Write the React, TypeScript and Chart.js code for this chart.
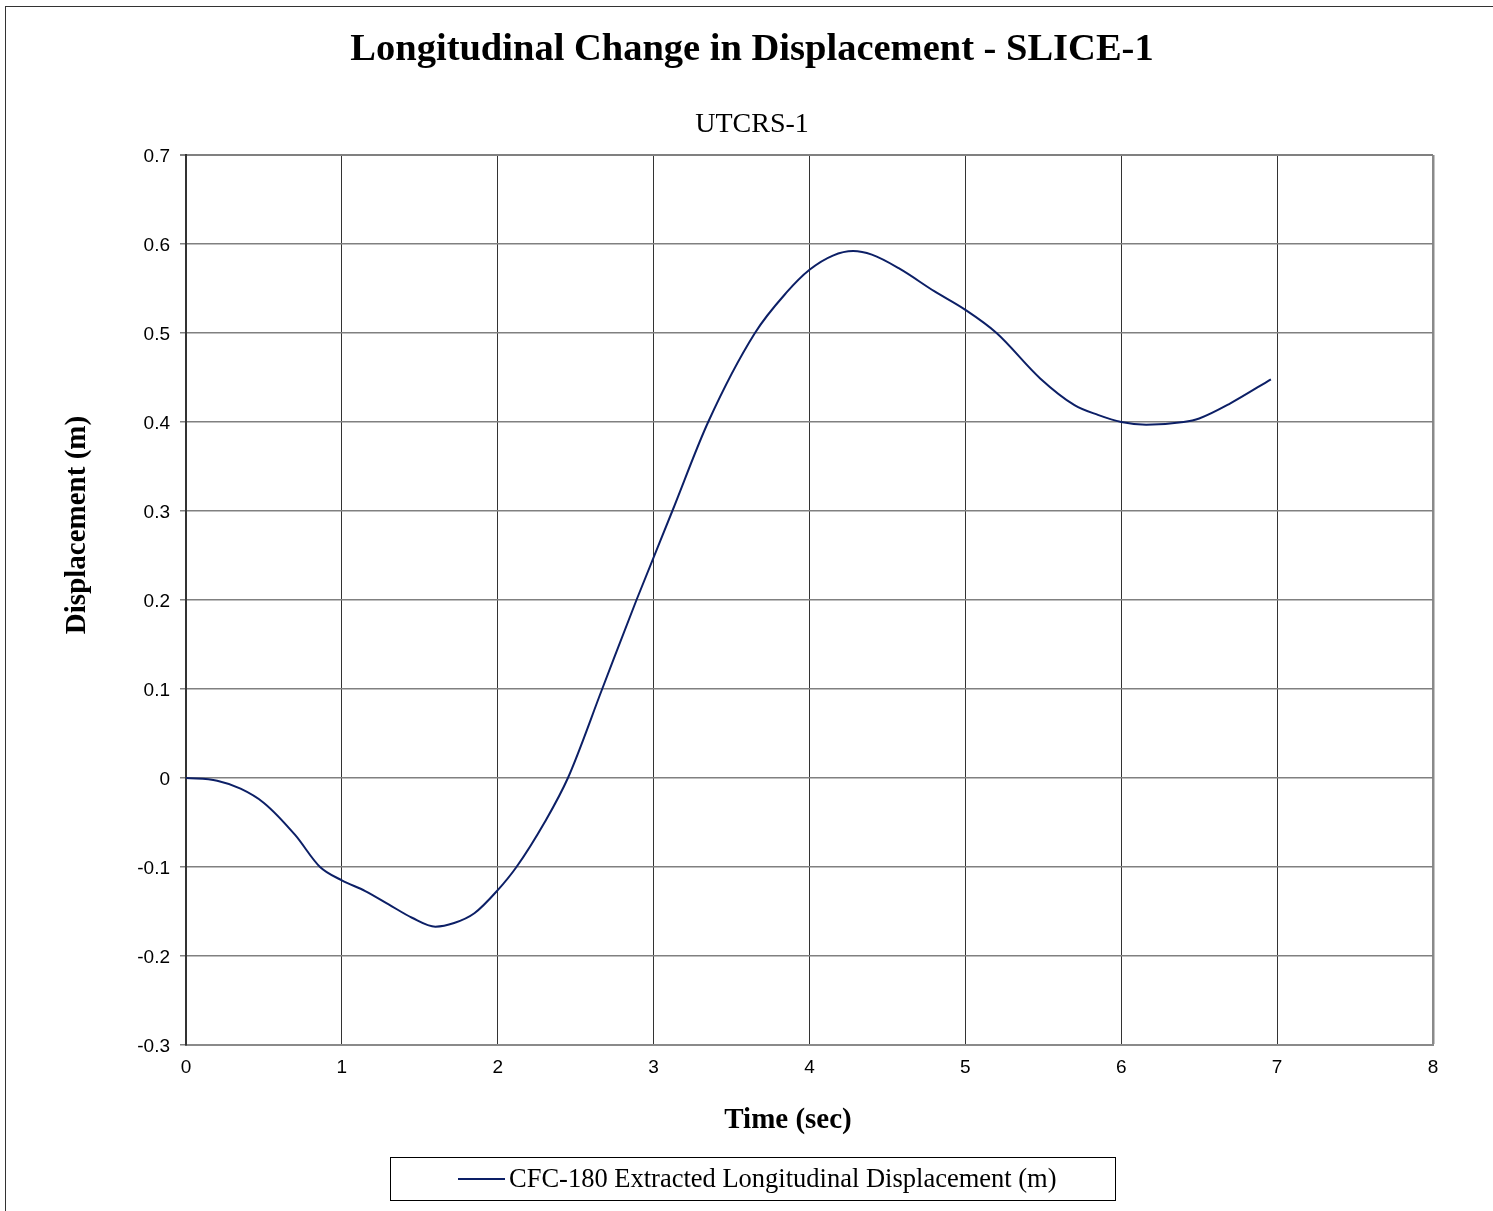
import React, { useEffect, useRef } from "react";
import { Chart, registerables } from "chart.js";

Chart.register(...registerables);

const TITLE = "Longitudinal Change in Displacement - SLICE-1";
const SUBTITLE = "UTCRS-1";
const X_TITLE = "Time (sec)";
const Y_TITLE = "Displacement (m)";
const SERIES_LABEL = "CFC-180 Extracted Longitudinal Displacement (m)";

const timeSec = [
  0, 0.2, 0.35, 0.5, 0.7, 0.86, 1.0, 1.15, 1.3, 1.45, 1.6, 1.72, 1.85, 2.0, 2.12, 2.3, 2.45,
  2.67, 2.89, 3.12, 3.35, 3.65, 3.85, 4.0, 4.15, 4.28, 4.4, 4.58, 4.8, 5.0, 5.2, 5.48, 5.7,
  5.85, 6.0, 6.16, 6.4, 6.5, 6.7, 6.96,
];
const displacement = [
  0, -0.003, -0.012, -0.028, -0.064, -0.1, -0.115, -0.127, -0.142, -0.157, -0.167, -0.163,
  -0.152, -0.126, -0.1, -0.05, 0, 0.1, 0.2, 0.3, 0.4, 0.5, 0.545, 0.571, 0.587, 0.592, 0.588,
  0.572, 0.547, 0.526, 0.5, 0.449, 0.419, 0.408, 0.4, 0.397, 0.4, 0.404, 0.421, 0.448,
];

const X_MIN = 0;
const X_MAX = 8;
const Y_MIN = -0.3;
const Y_MAX = 0.7;

const LINE_COLOR = "#0c1f66";

const framePlugin = {
  id: "frame",
  beforeDraw(chart: any) {
    const ctx = chart.ctx;
    ctx.save();
    ctx.fillStyle = "#ffffff";
    ctx.fillRect(0, 0, chart.width, chart.height);
    ctx.strokeStyle = "#333333";
    ctx.lineWidth = 1;
    ctx.strokeRect(5.5, 6.5, 3000, 3000);
    ctx.restore();
  },
};

const textPlugin = {
  id: "texts",
  afterDraw(chart: any) {
    const ctx = chart.ctx;
    ctx.save();
    ctx.fillStyle = "#000000";
    ctx.textAlign = "center";
    ctx.textBaseline = "alphabetic";
    ctx.font = "bold 38.5px 'Liberation Serif'";
    ctx.fillText(TITLE, 752, 60);
    ctx.font = "28px 'Liberation Serif'";
    ctx.fillText(SUBTITLE, 752, 132);
    ctx.font = "bold 29px 'Liberation Serif'";
    ctx.fillText(X_TITLE, 788, 1128);
    ctx.save();
    ctx.translate(85, 525);
    ctx.rotate(-Math.PI / 2);
    ctx.fillText(Y_TITLE, 0, 0);
    ctx.restore();
    ctx.restore();
  },
};

const legendBoxPlugin = {
  id: "legendBox",
  afterDraw(chart: any) {
    const ctx = chart.ctx;
    const ds = chart.data.datasets[0];
    ctx.save();
    ctx.strokeStyle = "#000000";
    ctx.lineWidth = 1;
    ctx.strokeRect(390.5, 1157.5, 725, 43);
    ctx.strokeStyle = ds.borderColor;
    ctx.lineWidth = 2;
    ctx.beginPath();
    ctx.moveTo(458, 1179);
    ctx.lineTo(505, 1179);
    ctx.stroke();
    ctx.fillStyle = "#000000";
    ctx.font = "26.5px 'Liberation Serif'";
    ctx.textBaseline = "middle";
    ctx.textAlign = "left";
    ctx.fillText(ds.label, 509, 1180);
    ctx.restore();
  },
};

export default function App() {
  const ref = useRef<HTMLCanvasElement>(null);

  useEffect(() => {
    if (!ref.current) return;
    const points = timeSec.map((t, i) => ({ x: t, y: displacement[i] }));
    const chart = new Chart(ref.current, {
      type: "line",
      data: {
        datasets: [
          {
            label: SERIES_LABEL,
            data: points,
            borderColor: LINE_COLOR,
            backgroundColor: LINE_COLOR,
            borderWidth: 2,
            pointRadius: 0,
            tension: 0.4,
            cubicInterpolationMode: "monotone",
            fill: false,
          },
        ],
      },
      options: {
        animation: false,
        responsive: false,
        devicePixelRatio: 1,
        layout: { padding: { left: 0, right: 60, top: 155, bottom: 76 } },
        plugins: {
          legend: { display: false },
          tooltip: { enabled: false },
          title: { display: false },
          subtitle: { display: false },
        },
        scales: {
          x: {
            type: "linear",
            min: X_MIN,
            max: X_MAX,
            ticks: {
              stepSize: 1,
              color: "#000",
              padding: 11,
              font: { family: "'Liberation Sans'", size: 19 },
            },
            grid: {
              drawTicks: false,
              color: (c: any) => (c.tick && c.tick.value === X_MAX ? "#8a8a8a" : "#333333"),
              lineWidth: (c: any) => (c.tick && c.tick.value === X_MAX ? 2.5 : 1),
            },
            border: { display: true, color: "#8a8a8a", width: 2 },
            title: { display: false, text: X_TITLE },
            afterFit(scale: any) {
              scale.height = 90;
            },
          },
          y: {
            type: "linear",
            min: Y_MIN,
            max: Y_MAX,
            ticks: {
              stepSize: 0.1,
              color: "#000",
              padding: 10,
              labelOffset: 1.5,
              font: { family: "'Liberation Sans'", size: 19 },
              callback: (v: any) => String(Math.round(Number(v) * 10) / 10),
            },
            grid: {
              drawTicks: true,
              tickLength: 6,
              color: "#808080",
              lineWidth: (c: any) => (c.tick && c.tick.value === Y_MAX ? 2 : 1.5),
            },
            border: { display: true, color: "#333333", width: 2 },
            title: { display: false, text: Y_TITLE },
            afterFit(scale: any) {
              scale.width = 186;
            },
          },
        },
      },
      plugins: [framePlugin, textPlugin, legendBoxPlugin],
    });
    return () => chart.destroy();
  }, []);

  return (
    <div style={{ position: "fixed", left: 0, top: 0, width: 1493, height: 1211, background: "#fff" }}>
      <canvas ref={ref} width={1493} height={1211} style={{ width: 1493, height: 1211, display: "block" }} />
    </div>
  );
}
